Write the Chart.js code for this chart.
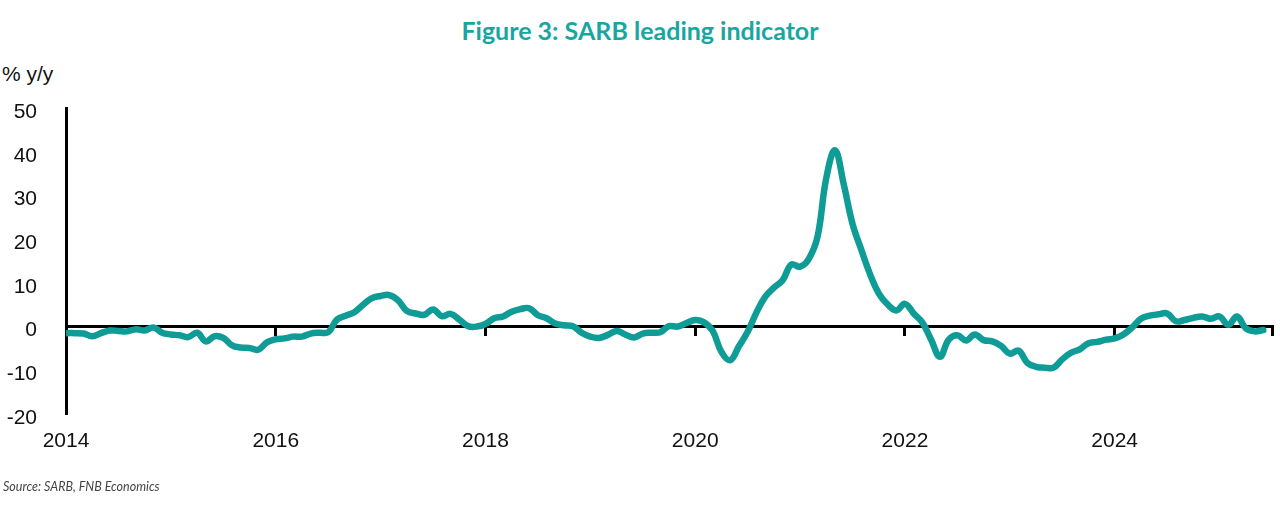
<!DOCTYPE html>
<html>
<head>
<meta charset="utf-8">
<script src="https://cdn.jsdelivr.net/npm/chart.js@4.4.1/dist/chart.umd.min.js"></script>
<style>
    body { margin: 0; background: #fff; }
    #wrap { position: relative; width: 1280px; height: 520px; overflow: hidden; }
    #titulo {
        position: absolute; top: 15px; left: 0; width: 1280px; text-align: center;
        font-family: Lato, "Open Sans", sans-serif; font-weight: 700; font-size: 25px;
        color: #17a7a1;
    }
    #unidade {
        position: absolute; top: 62px; left: 2px;
        font-family: "Liberation Sans", Arial, sans-serif; font-size: 21px; color: #111;
    }
    #fonte {
        position: absolute; top: 479px; left: 3px;
        font-family: Lato, "Open Sans", sans-serif; font-style: italic; font-size: 12.5px; color: #444;
    }
    canvas { position: absolute; top: 0; left: 0; }
</style>
</head>
<body>
<div id="wrap">
    <div id="titulo">Figure 3: SARB leading indicator</div>
    <div id="unidade">% y/y</div>
    <canvas id="grafico" width="1280" height="520"></canvas>
    <div id="fonte">Source: SARB, FNB Economics</div>
</div>
<script>
// monthly, Jan 2014 onwards
const startYear = 2014;
const tickLabels = ['2014', '2016', '2018', '2020', '2022', '2024'];
const leading = [
    -1.5, -1.5, -1.6, -2.2, -1.5, -0.9, -1.0, -1.1, -0.6, -0.9, -0.2, -1.4,   // 2014
    -1.8, -2.0, -2.4, -1.4, -3.4, -2.2, -2.6, -4.3, -4.8, -4.9, -5.3, -3.6,   // 2015
    -2.9, -2.7, -2.3, -2.3, -1.6, -1.4, -1.3, 1.6, 2.5, 3.3, 5.0, 6.5,        // 2016
    7.0, 7.2, 6.0, 3.6, 3.0, 2.7, 3.9, 2.4, 2.9, 1.6, 0.1, 0.0,               // 2017
    0.6, 1.9, 2.3, 3.4, 4.0, 4.2, 2.6, 1.9, 0.7, 0.3, 0.1, -1.4,              // 2018
    -2.3, -2.6, -1.9, -1.0, -1.8, -2.5, -1.6, -1.4, -1.3, 0.1, 0.0, 0.8,      // 2019
    1.5, 1.0, -1.0, -5.8, -7.7, -4.5, -1.2, 3.2, 6.8, 8.9, 10.6, 14.2,        // 2020
    13.7, 15.5, 20.6, 34.0, 40.3, 32.5, 23.5, 17.6, 12.0, 7.6, 5.1, 3.7,      // 2021
    5.2, 3.0, 0.9, -3.0, -6.9, -3.0, -2.0, -3.2, -1.8, -3.1, -3.4, -4.4,      // 2022
    -6.2, -5.5, -8.3, -9.2, -9.4, -9.4, -7.5, -6.0, -5.2, -3.8, -3.5, -3.0,   // 2023
    -2.7, -1.8, -0.2, 1.8, 2.5, 2.8, 3.0, 1.2, 1.5, 2.0, 2.3, 1.8,            // 2024
    2.3, 0.4, 2.3, -0.4, -1.1, -0.8                                           // 2025
];

const pontos = leading.map((v, i) => ({ x: i, y: v }));
const fonteEixo = { family: '"Liberation Sans", Arial, sans-serif', size: 21 };

const ctx = document.getElementById('grafico').getContext('2d');
const myChart = new Chart(ctx, {
    type: 'line',
    data: {
        datasets: [{
            label: 'SARB leading indicator',
            data: pontos,
            xAxisID: 'x',
            borderColor: '#0f9c97',
            borderWidth: 6.5,
            pointRadius: 0,
            tension: 0.4,
            borderCapStyle: 'round',
            borderJoinStyle: 'round'
        }]
    },
    options: {
        responsive: false,
        animation: false,
        layout: { padding: { top: 108, right: 8, bottom: 0, left: 0 } },
        plugins: { legend: { display: false }, tooltip: { enabled: false } },
        scales: {
            x: {
                type: 'linear', min: 0, max: 138,
                position: 'bottom',
                border: { display: false },
                grid: { display: false, drawTicks: false },
                ticks: {
                    stepSize: 24, padding: 15, color: '#111', font: fonteEixo,
                    maxRotation: 0, autoSkip: false,
                    callback: (v) => tickLabels[v / 24]
                },
                afterFit: (s) => { s.height = 106; }
            },
            x2: {
                type: 'linear', min: 0, max: 138,
                position: { y: 0 },
                border: { display: true, color: '#000', width: 3 },
                grid: { drawOnChartArea: false, drawTicks: true, tickLength: 8, color: '#000', lineWidth: 3 },
                ticks: { stepSize: 24, display: false }
            },
            y: {
                min: -20, max: 50,
                border: { display: true, color: '#000', width: 3 },
                grid: { display: false, drawTicks: false },
                ticks: { stepSize: 10, padding: 29, labelOffset: 4, color: '#111', font: fonteEixo },
                afterFit: (s) => { s.width = 66; }
            }
        }
    }
});
</script>
</body>
</html>
